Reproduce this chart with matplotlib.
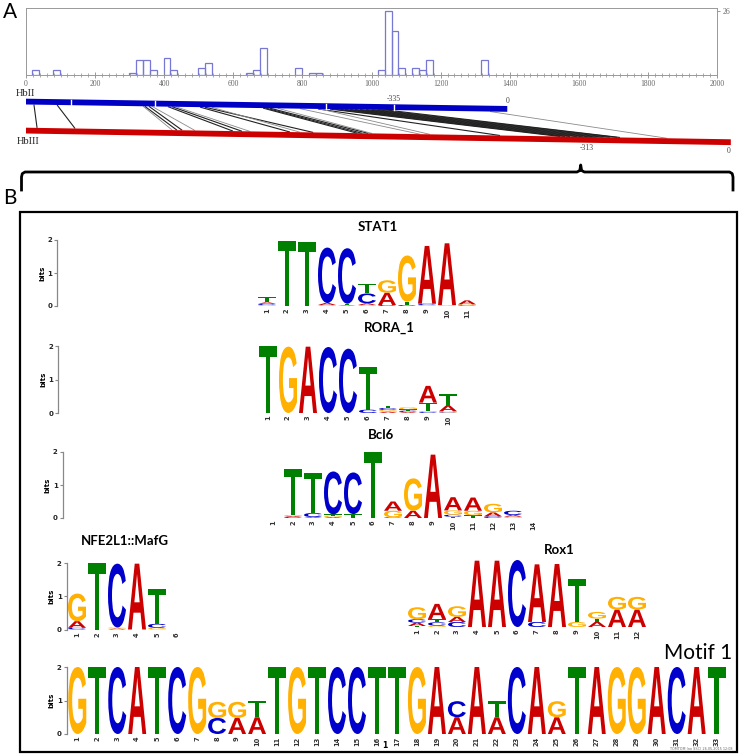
import matplotlib
matplotlib.use('Agg')
import matplotlib.pyplot as plt
from matplotlib.textpath import TextPath
from matplotlib.font_manager import FontProperties
from matplotlib.patches import PathPatch, Polygon, Rectangle
from matplotlib.transforms import Affine2D
from matplotlib.ticker import MultipleLocator

W, H = 739, 755

# ---------------- Panel A data ----------------
hist_bin_left = [18, 78, 298, 318, 338, 358, 398, 418, 498, 518, 638, 658, 678,
                 778, 818, 838, 1018, 1038, 1058, 1078, 1118, 1138, 1158, 1318]
hist_counts = [2, 2, 1, 6, 6, 2, 7, 2, 3, 5, 1, 2, 11,
               3, 1, 1, 2, 26, 18, 3, 3, 2, 6, 6]
hist_xticks = list(range(0, 2001, 200))
hist_ymax_label = 26

hbii_length = 1393
hbiii_length = 2040
hbii_marks = [130, 373, 868, 1065]
hbii_labels = [(1065, '-335'), (1393, '0')]
hbiii_labels = [(1624, '-313'), (2035, '0')]
# aligned segments: (position on HbII, position on HbIII, dark?)
align_hbii = [23, 90, 339, 344, 356, 365, 411, 423, 434, 504, 518, 538, 686, 695, 706, 729,
              793, 845, 851, 880, 894, 909, 923, 938, 952, 967, 984, 1001, 1019, 1042, 1343]
align_hbiii = [32, 142, 423, 437, 452, 489, 599, 625, 648, 764, 831, 793, 958, 972, 990, 1001,
               1140, 1372, 1169, 1546, 1560, 1575, 1595, 1612, 1632, 1650, 1670, 1690, 1711, 1719, 1855]
align_dark = [1, 1, 0, 1, 1, 0, 1, 1, 0, 1, 1, 0, 1, 1, 1, 0,
              0, 1, 0, 1, 1, 1, 1, 1, 1, 1, 1, 1, 1, 1, 0]

# ---------------- Panel B data (letter, bits) bottom -> top ----------------
stat1_cols = [
    [('G', 0.03), ('C', 0.04), ('A', 0.04), ('T', 0.15)],
    [('T', 1.98)],
    [('T', 1.95)],
    [('G', 0.03), ('A', 0.06), ('C', 1.68)],
    [('A', 0.02), ('T', 0.05), ('C', 1.68)],
    [('G', 0.03), ('A', 0.05), ('C', 0.30), ('T', 0.30)],
    [('C', 0.03), ('A', 0.37), ('G', 0.38)],
    [('C', 0.03), ('T', 0.10), ('G', 1.40)],
    [('G', 0.03), ('C', 0.04), ('A', 1.75)],
    [('G', 0.03), ('A', 1.87)],
    [('C', 0.02), ('G', 0.03), ('A', 0.12)],
]
rora1_cols = [
    [('T', 2.0)],
    [('G', 1.98)],
    [('A', 1.98)],
    [('C', 1.97)],
    [('C', 1.92)],
    [('C', 0.10), ('T', 1.28)],
    [('A', 0.04), ('G', 0.05), ('C', 0.06), ('T', 0.07)],
    [('A', 0.03), ('C', 0.04), ('T', 0.04), ('G', 0.06)],
    [('C', 0.03), ('G', 0.03), ('T', 0.25), ('A', 0.50)],
    [('C', 0.02), ('G', 0.03), ('A', 0.17), ('T', 0.34)],
]
bcl6_cols = [
    [],
    [('C', 0.03), ('A', 0.03), ('G', 0.03), ('T', 1.38)],
    [('A', 0.03), ('C', 0.12), ('T', 1.22)],
    [('A', 0.03), ('G', 0.04), ('T', 0.04), ('C', 1.30)],
    [('T', 0.12), ('C', 1.26)],
    [('T', 2.0)],
    [('C', 0.02), ('G', 0.20), ('A', 0.28)],
    [('A', 0.22), ('G', 0.98)],
    [('A', 1.92)],
    [('T', 0.04), ('C', 0.06), ('G', 0.13), ('A', 0.40)],
    [('T', 0.08), ('G', 0.14), ('A', 0.40)],
    [('C', 0.05), ('A', 0.12), ('G', 0.26)],
    [('G', 0.04), ('A', 0.05), ('C', 0.13)],
    [],
]
nfe2l1_cols = [
    [('C', 0.05), ('A', 0.20), ('G', 0.83)],
    [('T', 2.0)],
    [('A', 0.03), ('G', 0.03), ('C', 1.92)],
    [('A', 1.98)],
    [('G', 0.05), ('C', 0.12), ('T', 1.05)],
    [],
]
rox1_cols = [
    [('T', 0.03), ('A', 0.10), ('C', 0.10), ('G', 0.36)],
    [('G', 0.04), ('C', 0.10), ('T', 0.10), ('A', 0.45)],
    [('C', 0.15), ('A', 0.15), ('G', 0.32)],
    [('A', 1.98)],
    [('A', 1.98)],
    [('C', 2.0)],
    [('C', 0.15), ('A', 1.72)],
    [('A', 1.88)],
    [('G', 0.15), ('T', 1.27)],
    [('A', 0.15), ('T', 0.10), ('G', 0.20)],
    [('A', 0.52), ('G', 0.38)],
    [('A', 0.52), ('G', 0.38)],
]
motif1_cols = [
    [('G', 2.0)], [('T', 2.0)], [('C', 2.0)], [('A', 2.0)], [('T', 2.0)], [('C', 2.0)],
    [('G', 2.0)], [('C', 0.48), ('G', 0.48)], [('A', 0.48), ('G', 0.48)],
    [('A', 0.50), ('T', 0.50)], [('T', 2.0)], [('G', 2.0)], [('T', 2.0)], [('C', 2.0)],
    [('C', 2.0)], [('T', 2.0)], [('T', 2.0)], [('G', 2.0)], [('A', 2.0)],
    [('A', 0.50), ('C', 0.48)], [('A', 2.0)], [('A', 0.50), ('T', 0.48)], [('C', 2.0)],
    [('A', 2.0)], [('A', 0.50), ('G', 0.48)], [('T', 2.0)], [('A', 2.0)], [('G', 2.0)],
    [('G', 2.0)], [('A', 2.0)], [('C', 2.0)], [('A', 2.0)], [('T', 2.0)],
]

LETTER_COLORS = {'A': '#cc0000', 'C': '#0000cc', 'G': '#ffb000', 'T': '#008000'}

fig = plt.figure(figsize=(W / 100, H / 100), dpi=100)


def add_px_axes(left, top, right, bottom, **kw):
    return fig.add_axes([left / W, 1 - bottom / H, (right - left) / W, (bottom - top) / H], **kw)


# canvas for free annotations (pixel coordinates)
canvas = fig.add_axes([0, 0, 1, 1], zorder=0)
canvas.set_xlim(0, W)
canvas.set_ylim(H, 0)
canvas.axis('off')

SERIF = 'Liberation Serif'
HUM = 'Lato'

# ---------------- Panel A: histogram ----------------
axh = add_px_axes(26, 8.3, 717, 75, zorder=2)
axh.bar(hist_bin_left, hist_counts, width=20, align='edge', fill=False,
        edgecolor='#7777d4', linewidth=0.9)
axh.set_xlim(0, 2000)
axh.set_ylim(0, 27.3)
for s in axh.spines.values():
    s.set_color('#999999')
    s.set_linewidth(0.7)
axh.set_xticks(hist_xticks)
axh.set_xticklabels([str(t) for t in hist_xticks], fontsize=5.5, family=SERIF, color='#666666')
axh.xaxis.set_minor_locator(MultipleLocator(20))
axh.tick_params(axis='x', which='major', direction='inout', length=4, width=0.6, color='#888888', pad=1.5)
axh.tick_params(axis='x', which='minor', direction='inout', length=2.5, width=0.5, color='#888888')
axh.yaxis.tick_right()
axh.set_yticks([hist_ymax_label])
axh.set_yticklabels([str(hist_ymax_label)], fontsize=5.5, family=SERIF, color='#666666')
axh.tick_params(axis='y', length=2.5, width=0.6, color='#888888', pad=1.5)

# ---------------- Panel A: alignment ----------------
axa = add_px_axes(26, 88, 717, 160, zorder=2)
axa.set_xlim(0, 2000)
axa.set_ylim(160, 88)
axa.axis('off')
axa.patch.set_alpha(0)

B_Y0, B_Y1, B_T = 98.7, 106.0, 5.8
R_Y0, R_Y1, R_T = 127.7, 139.3, 5.8


def blue_top(u):
    return B_Y0 + (B_Y1 - B_Y0) * u / hbii_length


def red_top(u):
    return R_Y0 + (R_Y1 - R_Y0) * u / hbiii_length


for ub, ur, dk in zip(align_hbii, align_hbiii, align_dark):
    axa.plot([ub, ur], [blue_top(ub) + B_T, red_top(ur)],
             color='#222222' if dk else '#8a8a8a', lw=0.8 if dk else 0.6,
             clip_on=False, zorder=1, solid_capstyle='butt')

axa.add_patch(Polygon([(0, blue_top(0)), (hbii_length, blue_top(hbii_length)),
                       (hbii_length, blue_top(hbii_length) + B_T), (0, blue_top(0) + B_T)],
                      closed=True, fc='#0000c4', ec='none', clip_on=False, zorder=3))
axa.add_patch(Polygon([(0, red_top(0)), (hbiii_length, red_top(hbiii_length)),
                       (hbiii_length, red_top(hbiii_length) + R_T), (0, red_top(0) + R_T)],
                      closed=True, fc='#cc0000', ec='none', clip_on=False, zorder=3))
for m in hbii_marks:
    axa.plot([m, m], [blue_top(m) + 0.5, blue_top(m) + B_T - 0.3], color='white', lw=1.0,
             clip_on=False, zorder=4)
for u, t in hbii_labels:
    axa.text(u, blue_top(u) - 1.2, t, ha='center', va='bottom', fontsize=5.5, family=SERIF,
             color='#444444', clip_on=False)
for u, t in hbiii_labels:
    axa.text(u, red_top(u) + R_T + 1.5, t, ha='center', va='top', fontsize=5.5, family=SERIF,
             color='#444444', clip_on=False)

canvas.text(16, 93, 'HbII', fontsize=7.5, family=SERIF, color='#222222', ha='left', va='center')
canvas.text(17, 141, 'HbIII', fontsize=7.5, family=SERIF, color='#222222', ha='left', va='center')
canvas.text(3, 12, 'A', fontsize=15, family=HUM, ha='left', va='center')
canvas.text(3, 198, 'B', fontsize=15, family=HUM, ha='left', va='center')

# bracket
br = [(21.5, 190), (21.5, 177), (22.3, 173.6), (25, 172), (577, 172), (579.8, 170.5),
      (580.7, 165), (581.6, 170.5), (584.4, 172), (729.5, 172), (732.2, 173.6), (733, 177), (733, 190)]
canvas.plot([p[0] for p in br], [p[1] for p in br], color='black', lw=2.0,
            solid_joinstyle='round')

# panel B box
canvas.add_patch(Rectangle((20, 212), 716.5, 540, fill=False, ec='black', lw=1.6))

# ---------------- Panel B: sequence logos ----------------
LOGO_FP = FontProperties(family='Liberation Sans', weight='bold')
_cache = {}


def glyph(letter):
    if letter not in _cache:
        p = TextPath((0, 0), letter, size=1, prop=LOGO_FP)
        _cache[letter] = (p, p.get_extents())
    return _cache[letter]


def draw_letter(ax, letter, x, y, w, h):
    if h <= 0:
        return
    p, e = glyph(letter)
    t = Affine2D().translate(-e.x0, -e.y0).scale(w / e.width, h / e.height).translate(x - w / 2, y)
    ax.add_patch(PathPatch(t.transform_path(p), fc=LETTER_COLORS[letter], ec='none', lw=0,
                           clip_on=False))


def draw_logo(cols, axis_x, base_y, top_y, c0, show_axis=True, step=20.0):
    n = len(cols)
    right = c0 + step * (n + 0.6)
    ax = add_px_axes(axis_x, top_y, right, base_y, zorder=3)
    ax.patch.set_alpha(0)
    ax.set_xlim((axis_x - c0) / step, n + 0.6)
    ax.set_ylim(0, 2)
    for i, col in enumerate(cols, start=1):
        y = 0.0
        for letter, h in col:
            draw_letter(ax, letter, i, y, 0.9, h)
            y += h
    for s in ('top', 'right', 'bottom'):
        ax.spines[s].set_visible(False)
    ax.set_xticks(range(1, n + 1))
    ax.set_xticklabels([str(i) for i in range(1, n + 1)], rotation=90, fontsize=4.8,
                       fontweight='bold', color='#333333')
    ax.tick_params(axis='x', length=0, pad=2)
    if show_axis:
        ax.spines['left'].set_color('#888888')
        ax.spines['left'].set_linewidth(0.9)
        ax.set_yticks([0, 1, 2])
        ax.set_yticklabels(['0', '1', '2'], fontsize=5, fontweight='bold', color='#222222')
        ax.tick_params(axis='y', length=2.5, width=0.8, color='#888888', pad=1)
        ax.set_ylabel('bits', fontsize=5, fontweight='bold', labelpad=1.5)
    else:
        ax.spines['left'].set_visible(False)
        ax.set_yticks([])
    return ax


draw_logo(stat1_cols, 57, 306, 240, 247)
draw_logo(rora1_cols, 58, 413, 346, 248)
draw_logo(bcl6_cols, 62.5, 518, 452, 253)
draw_logo(nfe2l1_cols, 66.5, 629.5, 563, 57)
draw_logo(rox1_cols, 397, 627, 560, 397, show_axis=False)
draw_logo(motif1_cols, 66.5, 734, 667, 57.3, step=19.98)

TITLE_KW = dict(fontsize=9.5, fontweight='bold', family=HUM, ha='center', va='center')
canvas.text(378, 227, 'STAT1', **TITLE_KW)
canvas.text(389, 328, 'RORA_1', **TITLE_KW)
canvas.text(381, 435, 'Bcl6', **TITLE_KW)
canvas.text(125, 541, 'NFE2L1::MafG', **TITLE_KW)
canvas.text(559, 550, 'Rox1', **TITLE_KW)
canvas.text(732, 653, 'Motif 1', fontsize=15, family=HUM, ha='right', va='center')
canvas.text(385, 746, '1', fontsize=5.5, fontweight='bold', ha='center', va='center')
canvas.text(732, 749.3, 'TOMTOM (no SSC) 26.05.2015 12:08', fontsize=2.4, color='#666666',
            ha='right', va='center')

fig.savefig('out.png', dpi=100)
